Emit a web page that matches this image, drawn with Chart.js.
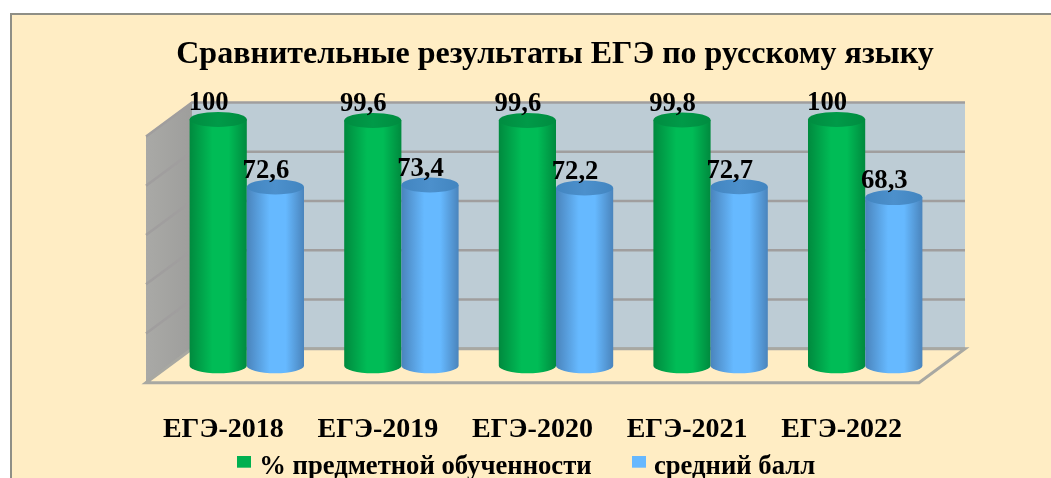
<!DOCTYPE html>
<html lang="ru"><head><meta charset="utf-8">
<style>
html,body{margin:0;padding:0;background:#fff;width:1051px;height:478px;overflow:hidden}
#panel{position:absolute;left:10px;top:13px;width:1041px;height:465px;background:#FFEDC4;box-shadow:inset 2px 2px 0 #8f8f86}
canvas{display:block}
</style>
<script src="https://cdn.jsdelivr.net/npm/chart.js@4"></script>
</head><body>
<div id="panel"><canvas id="c" width="1041" height="465"></canvas></div>
<script>
const titleText = 'Сравнительные результаты ЕГЭ по русскому языку';
const categories = ['ЕГЭ-2018','ЕГЭ-2019','ЕГЭ-2020','ЕГЭ-2021','ЕГЭ-2022'];
const seriesNames = ['% предметной обученности','средний балл'];
const masteryValues = [100,99.6,99.6,99.8,100];
const averageValues = [72.6,73.4,72.2,72.7,68.3];
const seriesColors = ['#00B050','#66B8FF'];
const FONT = '"Liberation Serif","Times New Roman",serif';
const DEPTH_X = 46, DEPTH_Y = 34, BAR_SHIFT = 23.5, ELLIPSE = 7.5;
const paints = [
  {edge:'#008A3E',mid:'#00BC56',top:'#009A48',topEdge:'#008C40'},
  {edge:'#4A84BC',mid:'#66B9FF',top:'#4C90CC',topEdge:'#4285C0'}
];
function drawCylinders(chart,index){
  const {ctx}=chart, p=paints[index];
  chart.getDatasetMeta(index).data.forEach(bar=>{
    const cx=bar.x+BAR_SHIFT, rx=bar.width/2, l=cx-rx, r=cx+rx;
    const g=ctx.createLinearGradient(l,0,r,0);
    g.addColorStop(0,p.edge);g.addColorStop(.4,p.mid);g.addColorStop(.68,p.mid);g.addColorStop(1,p.edge);
    ctx.fillStyle=g;
    ctx.beginPath();
    ctx.moveTo(l,bar.y);ctx.lineTo(l,bar.base);
    ctx.ellipse(cx,bar.base,rx,ELLIPSE,0,Math.PI,0,true);
    ctx.lineTo(r,bar.y);ctx.closePath();ctx.fill();
    const tg=ctx.createLinearGradient(l,0,r,0);
    tg.addColorStop(0,p.topEdge);tg.addColorStop(.5,p.top);tg.addColorStop(1,p.topEdge);
    ctx.fillStyle=tg;
    ctx.beginPath();ctx.ellipse(cx,bar.y,rx,ELLIPSE,0,0,Math.PI*2);ctx.fill();
  });
}
const scene3d = {
  id:'scene3d',
  afterLayout(chart){
    chart.titleBlock.left+=22.5; chart.titleBlock.right+=22.5;
    const l=chart.legend, h=l.bottom-l.top;
    l.top=395.3; l.bottom=l.top+h; l.left-=4; l.right-=4;
  },
  beforeDatasetsDraw(chart){
    const {ctx,chartArea:a,scales:{y}}=chart;
    const yZero=y.getPixelForValue(0), yMax=y.getPixelForValue(y.max);
    const half=DEPTH_Y/2;
    const fl=a.left, fr=a.right, bl=a.left+DEPTH_X, br=a.right+DEPTH_X;
    ctx.save();
    ctx.fillStyle='#BDCCD5';
    ctx.fillRect(bl,yMax-half,br-bl,yZero-yMax);
    const lw=ctx.createLinearGradient(fl,0,bl,0);
    lw.addColorStop(0,'#A9A9A6');lw.addColorStop(1,'#9E9E9C');
    ctx.fillStyle=lw;
    ctx.beginPath();
    ctx.moveTo(fl,yMax+half);ctx.lineTo(bl,yMax-half);ctx.lineTo(bl,yZero-half);ctx.lineTo(fl,yZero+half);
    ctx.closePath();ctx.fill();
    ctx.strokeStyle='#a09e9e';ctx.lineWidth=2.5;
    y.ticks.forEach(t=>{
      const p=y.getPixelForValue(t.value);
      ctx.beginPath();ctx.moveTo(fl,p+half);ctx.lineTo(bl,p-half);ctx.lineTo(br,p-half);ctx.stroke();
    });
    ctx.fillStyle='#FFEDC4';
    ctx.beginPath();
    ctx.moveTo(fl,yZero+half);ctx.lineTo(bl,yZero-half);ctx.lineTo(br,yZero-half);ctx.lineTo(fr,yZero+half);
    ctx.closePath();ctx.fill();
    ctx.strokeStyle='#a8a8a2';ctx.lineWidth=3;ctx.stroke();
    ctx.restore();
  },
  beforeDatasetDraw(){ return false; },
  afterDatasetsDraw(chart){
    const {ctx}=chart;
    ctx.save();
    chart.data.datasets.forEach((ds,i)=>drawCylinders(chart,i));
    ctx.font='bold 26.67px '+FONT;ctx.fillStyle='#000';ctx.textAlign='center';ctx.textBaseline='alphabetic';
    chart.data.datasets.forEach((ds,i)=>{
      chart.getDatasetMeta(i).data.forEach((bar,j)=>{
        ctx.fillText(String(ds.data[j]).replace('.',','),bar.x+BAR_SHIFT-9.5,bar.y-9);
      });
    });
    ctx.restore();
  }
};
function legendSwatch(color){
  const k=document.createElement('canvas');k.width=14;k.height=22;
  const x=k.getContext('2d');x.fillStyle=color;x.fillRect(0,0,14,12);
  return k;
}
new Chart(document.getElementById('c'),{
  type:'bar',
  plugins:[scene3d],
  data:{labels:categories,datasets:[
    {label:seriesNames[0],data:masteryValues,backgroundColor:seriesColors[0],barPercentage:1,categoryPercentage:.74},
    {label:seriesNames[1],data:averageValues,backgroundColor:seriesColors[1],barPercentage:1,categoryPercentage:.74}
  ]},
  options:{
    responsive:false,animation:false,
    layout:{padding:{left:136,right:132,top:0,bottom:-89}},
    scales:{
      x:{grid:{display:false},border:{display:false},
         ticks:{color:'#000',font:{family:FONT,size:28,weight:'bold'},padding:39,maxRotation:0,autoSkip:false}},
      y:{display:false,min:0,max:100,ticks:{stepSize:20}}
    },
    plugins:{
      tooltip:{enabled:false},
      title:{display:true,text:titleText,color:'#000',font:{family:FONT,size:32,weight:'bold',lineHeight:1.2},padding:{top:23,bottom:45}},
      legend:{position:'bottom',labels:{color:'#000',font:{family:FONT,size:26.67,weight:'bold'},boxWidth:4,boxHeight:13,padding:45,usePointStyle:true,
        generateLabels(chart){
          const items=Chart.defaults.plugins.legend.labels.generateLabels(chart);
          items.forEach((it,i)=>{it.pointStyle=legendSwatch(seriesColors[i]);});
          return items;
        }}}
    }
  }
});
</script>
</body></html>
